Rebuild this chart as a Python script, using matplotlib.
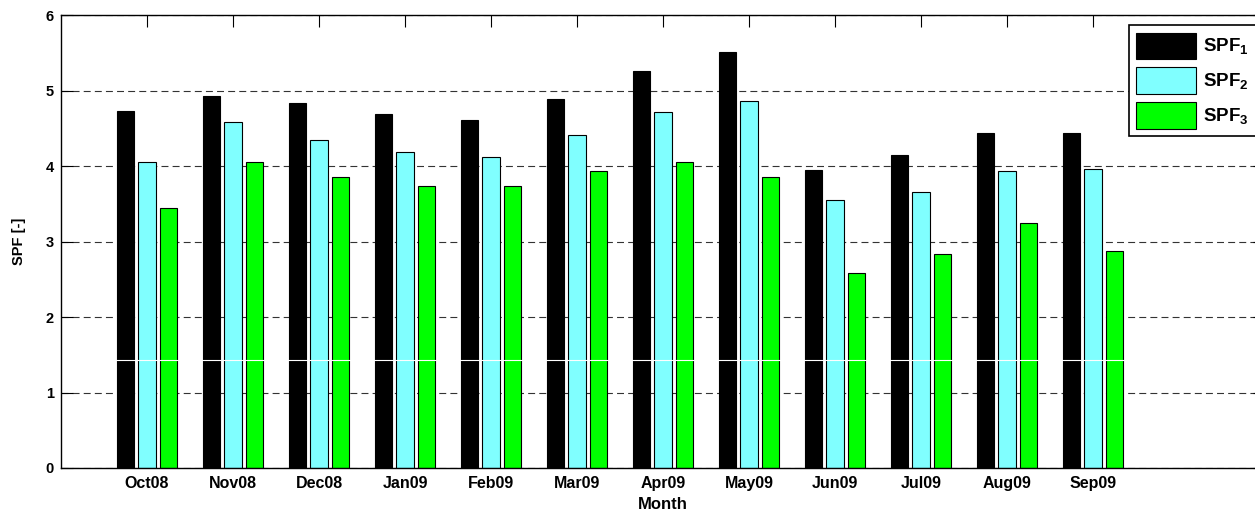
import matplotlib
matplotlib.use("Agg")
import matplotlib.pyplot as plt
import numpy as np

# monthly SPF values
months = ['Oct08', 'Nov08', 'Dec08', 'Jan09', 'Feb09', 'Mar09',
          'Apr09', 'May09', 'Jun09', 'Jul09', 'Aug09', 'Sep09']
spf1 = [4.73, 4.93, 4.83, 4.69, 4.61, 4.89, 5.26, 5.51, 3.95, 4.15, 4.44, 4.44]
spf2 = [4.06, 4.59, 4.35, 4.18, 4.12, 4.41, 4.71, 4.86, 3.55, 3.65, 3.93, 3.96]
spf3 = [3.44, 4.06, 3.86, 3.74, 3.73, 3.93, 4.06, 3.85, 2.58, 2.83, 3.24, 2.87]
series_labels = [r'SPF$_{\mathbf{1}}$', r'SPF$_{\mathbf{2}}$', r'SPF$_{\mathbf{3}}$']
colors = ['#000000', '#80FFFF', '#00FF00']

plt.rcParams['font.family'] = ['Liberation Sans', 'DejaVu Sans']
plt.rcParams['font.weight'] = 'bold'
plt.rcParams['mathtext.fontset'] = 'custom'
plt.rcParams['mathtext.bf'] = 'Liberation Sans:bold'
plt.rcParams['mathtext.rm'] = 'Liberation Sans:bold'
plt.rcParams['lines.scale_dashes'] = False

fig = plt.figure(figsize=(12.55, 5.17), dpi=100)
ax = fig.add_axes([0.0486, 0.0948, 0.9594, 0.876])

x = np.arange(1, len(months) + 1)
width = 0.2
offset = 0.25
for i, (vals, col, lab) in enumerate(zip([spf1, spf2, spf3], colors, series_labels)):
    ax.bar(x + (i - 1) * offset, vals, width, color=col, edgecolor='black',
           linewidth=0.8, label=lab, zorder=2)

# thin white artefact line crossing the bars
ax.hlines(1.43, 0.6, 12.4, color='white', linewidth=0.8, zorder=3)

ax.set_xlim(0, 14)
ax.set_ylim(0, 6)
ax.set_xticks(x)
ax.set_xticklabels(months, fontsize=11.5)
ax.set_yticks(range(0, 7))
ax.set_axisbelow(True)
ax.yaxis.grid(True, linestyle=(0, (5, 3)), color='0.2', linewidth=0.8)

ax.tick_params(axis='both', direction='in', length=8.6, width=0.8,
               labelsize=10.5, top=True, right=True)
ax.tick_params(axis='x', pad=6, labelsize=11.5)
ax.tick_params(axis='y', pad=5)
for sp in ax.spines.values():
    sp.set_linewidth(1.0)

ax.set_xlabel('Month', fontsize=12, fontweight='bold', labelpad=4)
ax.set_ylabel('SPF [-]', fontsize=10.5, fontweight='bold', labelpad=14)

leg = ax.legend(loc='upper left', bbox_to_anchor=(0.8996, 0.9516),
                bbox_transform=fig.transFigure, fontsize=13.5, fancybox=False,
                edgecolor='black', framealpha=1, handlelength=3.2,
                handleheight=1.8, labelspacing=0.45, handletextpad=0.35,
                borderpad=0.4, borderaxespad=0)
leg.get_frame().set_linewidth(1.2)

fig.savefig('out.png', dpi=100)
